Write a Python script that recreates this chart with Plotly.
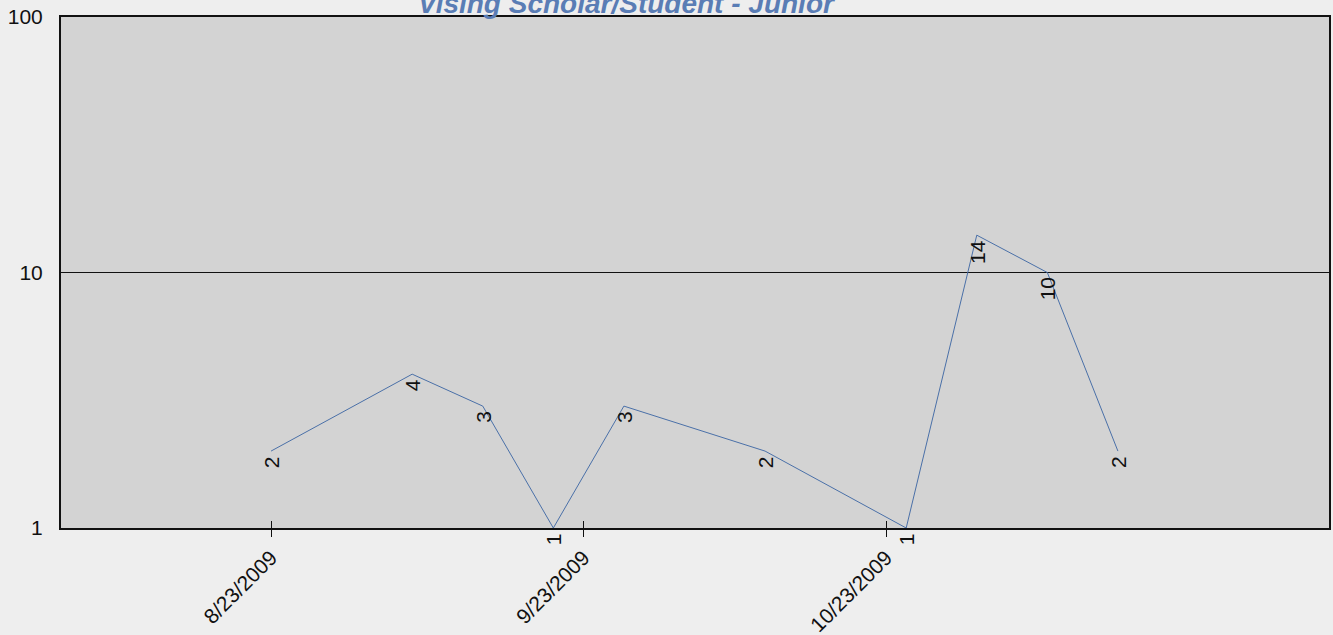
import math
import plotly.graph_objects as go

# Data
dates = ["2009-08-23", "2009-09-06", "2009-09-13", "2009-09-20", "2009-09-27",
         "2009-10-11", "2009-10-25", "2009-11-01", "2009-11-08", "2009-11-15"]
values = [2, 4, 3, 1, 3, 2, 1, 14, 10, 2]
x_tick_vals = ["2009-08-23", "2009-09-23", "2009-10-23"]
x_tick_text = ["8/23/2009", "9/23/2009", "10/23/2009"]
y_tick_vals = [1, 10, 100]
y_tick_text = ["1", "10", "100"]
title_text = "Vising Scholar/Student - Junior"

FONT = "Liberation Sans, Arial, sans-serif"
INK = "#111111"

fig = go.Figure()
fig.add_trace(go.Scatter(
    x=dates, y=values, mode="lines",
    line=dict(color="#4a70a8", width=1),
    hoverinfo="x+y", showlegend=False,
))

# rotated value labels under each point (log axis -> annotation y in log10 units)
for d, v in zip(dates, values):
    fig.add_annotation(
        x=d, y=math.log10(v), xref="x", yref="y", text=str(v), showarrow=False,
        textangle=-90, xanchor="center", yanchor="top", yshift=-3,
        font=dict(family=FONT, size=21, color=INK),
    )

fig.add_annotation(
    x=0.446, y=1.0, xref="paper", yref="paper", text="<b><i>" + title_text + "</i></b>",
    showarrow=False, xanchor="center", yanchor="bottom", yshift=-4,
    font=dict(family=FONT, size=28, color="#5a7db5"),
)

fig.update_layout(
    width=1333, height=635,
    margin=dict(l=61, r=4, t=17, b=107, pad=0, autoexpand=False),
    paper_bgcolor="#eeeeee",
    plot_bgcolor="#d3d3d3",
    font=dict(family=FONT, size=21, color=INK),
    xaxis=dict(
        type="date", automargin=False,
        range=["2009-08-02 04:00", "2009-12-05 22:30"],
        tickmode="array", tickvals=x_tick_vals, ticktext=x_tick_text,
        tickangle=-45, ticks="outside", ticklen=7, tickwidth=1, tickcolor=INK,
        minor=dict(tickmode="array", tickvals=x_tick_vals, ticks="inside",
                   ticklen=7, tickwidth=1, tickcolor=INK, showgrid=False),
        showgrid=False, zeroline=False,
        showline=True, linecolor=INK, linewidth=2, mirror=True,
        tickfont=dict(family=FONT, size=21, color=INK),
    ),
    yaxis=dict(
        type="log", range=[0, 2], automargin=False,
        tickmode="array", tickvals=y_tick_vals, ticktext=y_tick_text,
        ticks="", showgrid=True, gridcolor=INK, gridwidth=1,
        zeroline=False,
        showline=True, linecolor=INK, linewidth=2, mirror=True,
        tickfont=dict(family=FONT, size=21, color=INK),
        ticklabelstandoff=12,
    ),
)

fig.write_html(
    "out.html",
    config={"displayModeBar": False},
    post_script="document.body.style.margin='0';document.body.style.overflow='hidden';",
)
